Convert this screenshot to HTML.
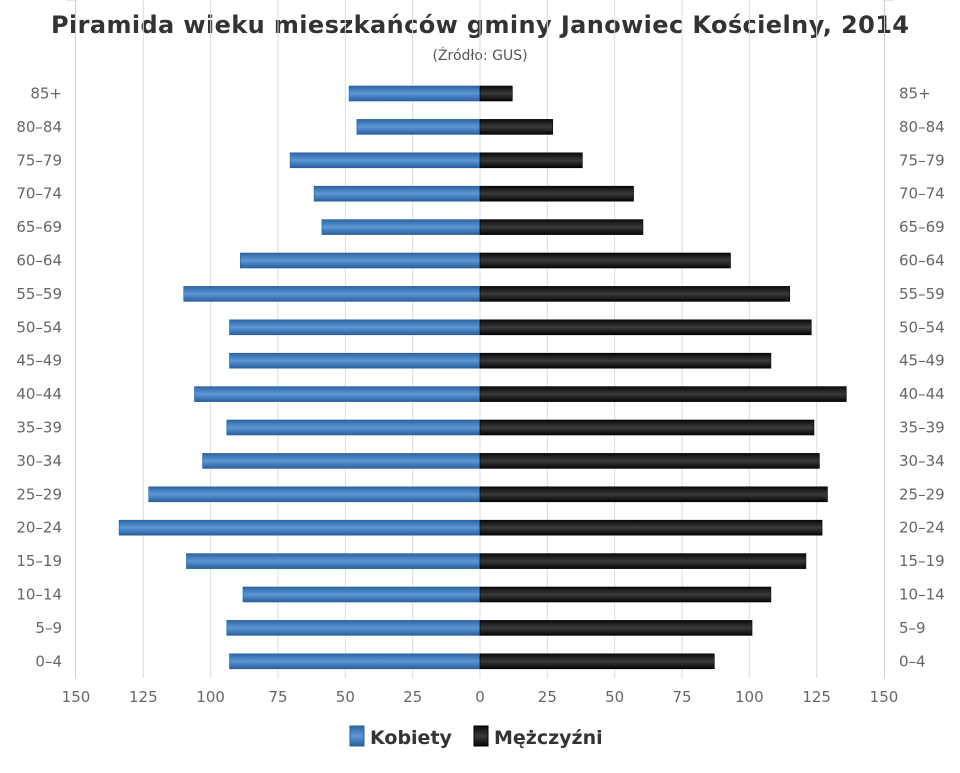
<!DOCTYPE html>
<html><head><meta charset="utf-8"><style>
body{margin:0;background:#fff;width:960px;height:768px;overflow:hidden;font-family:"Liberation Sans","DejaVu Sans",sans-serif}
</style></head><body>
<svg id="s" width="960" height="768" xmlns="http://www.w3.org/2000/svg" font-family="DejaVu Sans, Liberation Sans, sans-serif">
<defs>
<linearGradient id="gb" x1="0" y1="0" x2="0" y2="1"><stop offset="0" stop-color="#2f66a3"/><stop offset="0.5" stop-color="#5b97d6"/><stop offset="1" stop-color="#2a5f9c"/></linearGradient>
<linearGradient id="gk" x1="0" y1="0" x2="0" y2="1"><stop offset="0" stop-color="#0a0a0a"/><stop offset="0.5" stop-color="#3a3a3a"/><stop offset="1" stop-color="#050505"/></linearGradient>
</defs>
<text x="480" y="33" text-anchor="middle" font-size="24" font-weight="bold" fill="#333" textLength="858" lengthAdjust="spacing">Piramida wieku mieszkańców gminy Janowiec Kościelny, 2014</text>
<text x="480" y="60" text-anchor="middle" font-size="14" fill="#555">(Źródło: GUS)</text>
<g id="g"></g>
<rect x="350" y="726" width="14" height="20" fill="url(#gb)" stroke="#2a5f9c"/>
<text x="370" y="744" font-size="19" font-weight="bold" fill="#333">Kobiety</text>
<rect x="474" y="726" width="14" height="20" fill="url(#gk)" stroke="#000"/>
<text x="494" y="744" font-size="19" font-weight="bold" fill="#333">Mężczyźni</text>
</svg>
<script>
var g=document.getElementById('g'),h='';
var labs=['85+','80-84','75-79','70-74','65-69','60-64','55-59','50-54','45-49','40-44','35-39','30-34','25-29','20-24','15-19','10-14','5-9','0-4'];
var f=[48.6,45.7,70.5,61.6,58.7,89,110,93,93,106,94,103,123,134,109,88,94,93];
var m=[12,27,38,57,60.5,93,115,123,108,136,124,126,129,127,121,108,101,87];
var z=480,k=404/150,top=77,bot=678;
for(var v=-150;v<=150;v+=25){var x=z+v*k;
 if(v!=-150&&v!=150)h+='<line x1="'+x+'" y1="'+top+'" x2="'+x+'" y2="'+bot+'" stroke="#ddd"/>';
 h+='<text x="'+x+'" y="702" text-anchor="middle" font-size="15" fill="#666">'+Math.abs(v)+'</text>';}
h+='<line x1="75.5" y1="'+top+'" x2="75.5" y2="'+bot+'" stroke="#ccc"/><line x1="884.5" y1="'+top+'" x2="884.5" y2="'+bot+'" stroke="#ccc"/>';
var step=(bot-top)/18;
for(var i=0;i<=18;i++){var y=top+i*step;h+='<line x1="66" y1="'+y+'" x2="76" y2="'+y+'" stroke="#ccc"/><line x1="884" y1="'+y+'" x2="894" y2="'+y+'" stroke="#ccc"/>';}
for(var i=0;i<18;i++){var c=93.5+i*33.4;
 h+='<text x="62" y="'+(c+5)+'" text-anchor="end" font-size="15" fill="#666">'+labs[i].replace('-','–')+'</text>';
 h+='<text x="899" y="'+(c+5)+'" font-size="15" fill="#666">'+labs[i].replace('-','–')+'</text>';
 var w=f[i]*k;h+='<rect x="'+(z-w)+'" y="'+(c-7.5)+'" width="'+w+'" height="15" fill="url(#gb)" stroke="#2a5f9c" stroke-width="0.6"/>';
 w=m[i]*k;h+='<rect x="'+z+'" y="'+(c-7.5)+'" width="'+w+'" height="15" fill="url(#gk)" stroke="#000" stroke-width="0.6"/>';}
g.innerHTML=h;
</script>
</body></html>
